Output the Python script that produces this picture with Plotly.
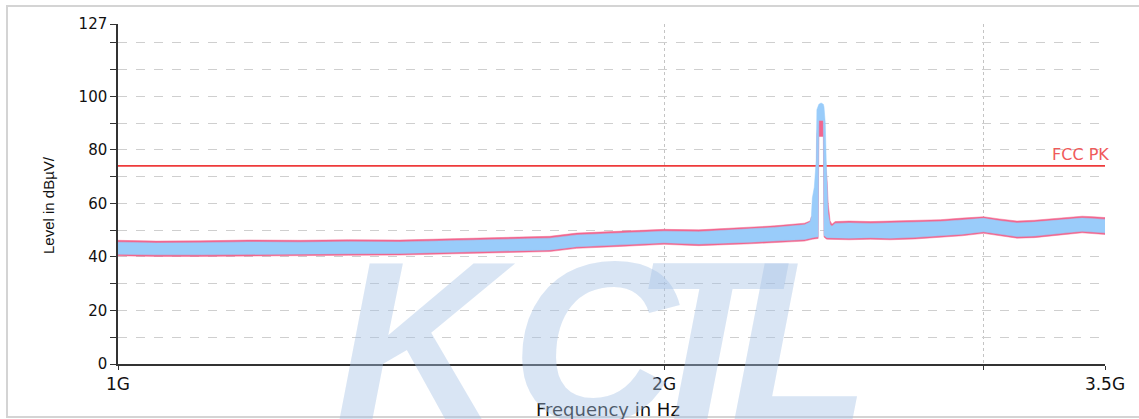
import plotly.graph_objects as go

# ---- data ----
freq_ghz = [1.00, 1.05, 1.11, 1.18, 1.26, 1.34, 1.43, 1.52, 1.62, 1.73, 1.79, 1.89, 2.00, 2.09, 2.23,
            2.30, 2.39, 2.407, 2.411, 2.414, 2.420, 2.426, 2.428, 2.432, 2.434, 2.441, 2.448, 2.450,
            2.454, 2.457, 2.460, 2.463, 2.469, 2.475, 2.485, 2.53, 2.60, 2.665, 2.75, 2.84, 2.92,
            3.00, 3.06, 3.13, 3.20, 3.265, 3.33, 3.40, 3.45, 3.50]

blue_hi = [45.5, 45.2, 45.3, 45.6, 45.5, 45.7, 45.6, 46.0, 46.5, 47.0, 48.2, 48.8, 49.6, 49.4, 50.5,
           51.0, 52.0, 53.0, 55.0, 62.0, 66.0, 76.0, 95.0, 97.0, 97.0, 97.5, 97.0, 96.0,
           90.0, 75.6, 65.0, 56.0, 52.0, 51.5, 52.5, 52.7, 52.5, 52.7, 52.8, 53.2, 53.8,
           54.4, 53.5, 52.7, 53.0, 53.5, 54.0, 54.5, 54.3, 54.0]
blue_lo = [41.0, 40.8, 40.8, 41.0, 41.0, 41.2, 41.3, 41.8, 42.2, 42.6, 43.8, 44.5, 45.3, 44.8, 45.5,
           45.8, 46.5, 47.0, 47.0, 47.2, 47.3, 47.5, 47.5, 47.5, 91.0, 91.0, 91.0, 48.0,
           47.5, 47.3, 47.2, 47.0, 47.0, 47.0, 47.0, 47.0, 47.2, 47.0, 47.3, 47.9, 48.5,
           49.4, 48.5, 47.6, 47.8, 48.5, 49.0, 49.6, 49.3, 49.0]

pink_hi = [46.2, 45.9, 46.0, 46.3, 46.2, 46.4, 46.3, 46.7, 47.2, 47.7, 48.9, 49.5, 50.3, 50.1, 51.2,
           51.6, 52.6, 53.4, 55.0, 55.0, 60.0, 70.0, 86.0, 91.0, 91.5, 91.5, 91.0, 85.0,
           75.0, 72.0, 68.0, 60.0, 53.5, 52.2, 53.2, 53.4, 53.2, 53.4, 53.5, 53.9, 54.5,
           55.0, 54.2, 53.4, 53.7, 54.2, 54.7, 55.2, 55.0, 54.7]
pink_lo = [40.4, 40.2, 40.2, 40.4, 40.4, 40.6, 40.7, 41.2, 41.6, 42.0, 43.2, 43.9, 44.7, 44.2, 44.9,
           45.2, 45.9, 46.4, 46.4, 46.6, 46.7, 46.9, 46.9, 46.9, 85.0, 85.0, 85.0, 47.4,
           46.9, 46.7, 46.6, 46.4, 46.4, 46.4, 46.4, 46.4, 46.6, 46.4, 46.7, 47.3, 47.9,
           48.8, 47.9, 47.0, 47.2, 47.9, 48.4, 49.0, 48.7, 48.4]

limit_freq = [1.0, 3.5]
limit_level = [74, 74]
limit_name = "FCC PK"

y_tickvals = [0, 10, 20, 30, 40, 50, 60, 70, 80, 90, 100, 110, 120, 127]
y_ticktext = ["0", "", "20", "", "40", "", "60", "", "80", "", "100", "", "", "127"]
x_tickvals = [1, 2, 3, 3.5]
x_ticktext = ["1G", "2G", "", "3.5G"]
watermark_letters = ["K", "C", "T", "L"]

PINK = "#F2668E"
BLUE = "#99CCFA"
RED = "#EE3B3B"

fig = go.Figure()

fig.add_trace(go.Scatter(x=limit_freq, y=limit_level, mode="lines",
                         line=dict(color=RED, width=1.6), hoverinfo="skip"))

fig.add_trace(go.Scatter(x=freq_ghz + freq_ghz[::-1], y=pink_hi + pink_lo[::-1],
                         mode="lines", fill="toself", fillcolor=PINK,
                         line=dict(color=PINK, width=0.5), hoverinfo="skip"))
fig.add_trace(go.Scatter(x=freq_ghz + freq_ghz[::-1], y=blue_hi + blue_lo[::-1],
                         mode="lines", fill="toself", fillcolor=BLUE,
                         line=dict(color=BLUE, width=0.5), hoverinfo="skip"))

# plot area: x 118..1105, y 24..364 (px)
PL, PR, PT, PB = 118, 1105, 24, 364
W, H = PR - PL, PB - PT

def px_x(px):
    return (px - PL) / W

def px_y(py):
    return (PB - py) / H

annotations = []
annotations.append(dict(text=limit_name, x=1, y=74, xref="paper", yref="y",
                        xanchor="right", yanchor="bottom", xshift=6, yshift=0,
                        showarrow=False, font=dict(family="DejaVu Sans", size=16, color="#F05A5A")))
annotations.append(dict(text="Level in dBµV/", x=px_x(48), y=px_y(205), xref="paper", yref="paper",
                        textangle=-90, showarrow=False, xanchor="center", yanchor="middle",
                        font=dict(family="Liberation Sans", size=15, color="#111")))
annotations.append(dict(text="Frequency in Hz", x=px_x(608), y=px_y(409), xref="paper", yref="paper",
                        showarrow=False, xanchor="center", yanchor="middle",
                        font=dict(family="DejaVu Sans", size=18, color="#111")))

wm_centers = [425, 595, 710, 800]
for letter, cx in zip(watermark_letters, wm_centers):
    annotations.append(dict(text="<b><i>" + letter + "</i></b>", x=px_x(cx), y=px_y(342),
                            xref="paper", yref="paper", showarrow=False,
                            xanchor="center", yanchor="middle",
                            font=dict(family="Liberation Sans", size=230,
                                      color="rgba(165,192,228,0.42)")))

fig.update_layout(
    width=1139, height=419,
    margin=dict(l=PL, r=1139 - PR, t=PT, b=419 - PB),
    paper_bgcolor="white", plot_bgcolor="white",
    showlegend=False,
    annotations=annotations,
    shapes=[dict(type="rect", xref="paper", yref="paper",
                 x0=px_x(7), x1=px_x(1150), y0=px_y(417), y1=px_y(6),
                 line=dict(color="#D4D4D4", width=2), layer="below")],
    xaxis=dict(type="log", range=[0, 0.544068], tickvals=x_tickvals, ticktext=x_ticktext,
               showgrid=True, gridcolor="#C4C4C4", griddash="dot", gridwidth=1,
               showline=True, linecolor="#333", linewidth=1.5,
               ticks="outside", ticklen=4, tickcolor="#333",
               tickfont=dict(family="DejaVu Sans", size=17, color="#111"),
               zeroline=False),
    yaxis=dict(range=[0, 127], tickvals=y_tickvals, ticktext=y_ticktext,
               showgrid=True, gridcolor="#CFCFCF", griddash="dash", gridwidth=1,
               showline=True, linecolor="#333", linewidth=1.5,
               ticks="outside", ticklen=6, tickcolor="#333",
               tickfont=dict(family="DejaVu Sans", size=15, color="#111"),
               zeroline=False),
)

fig.write_html("out.html", config={"displayModeBar": False},
               post_script="document.body.style.margin='0px';document.body.style.overflow='hidden';")
